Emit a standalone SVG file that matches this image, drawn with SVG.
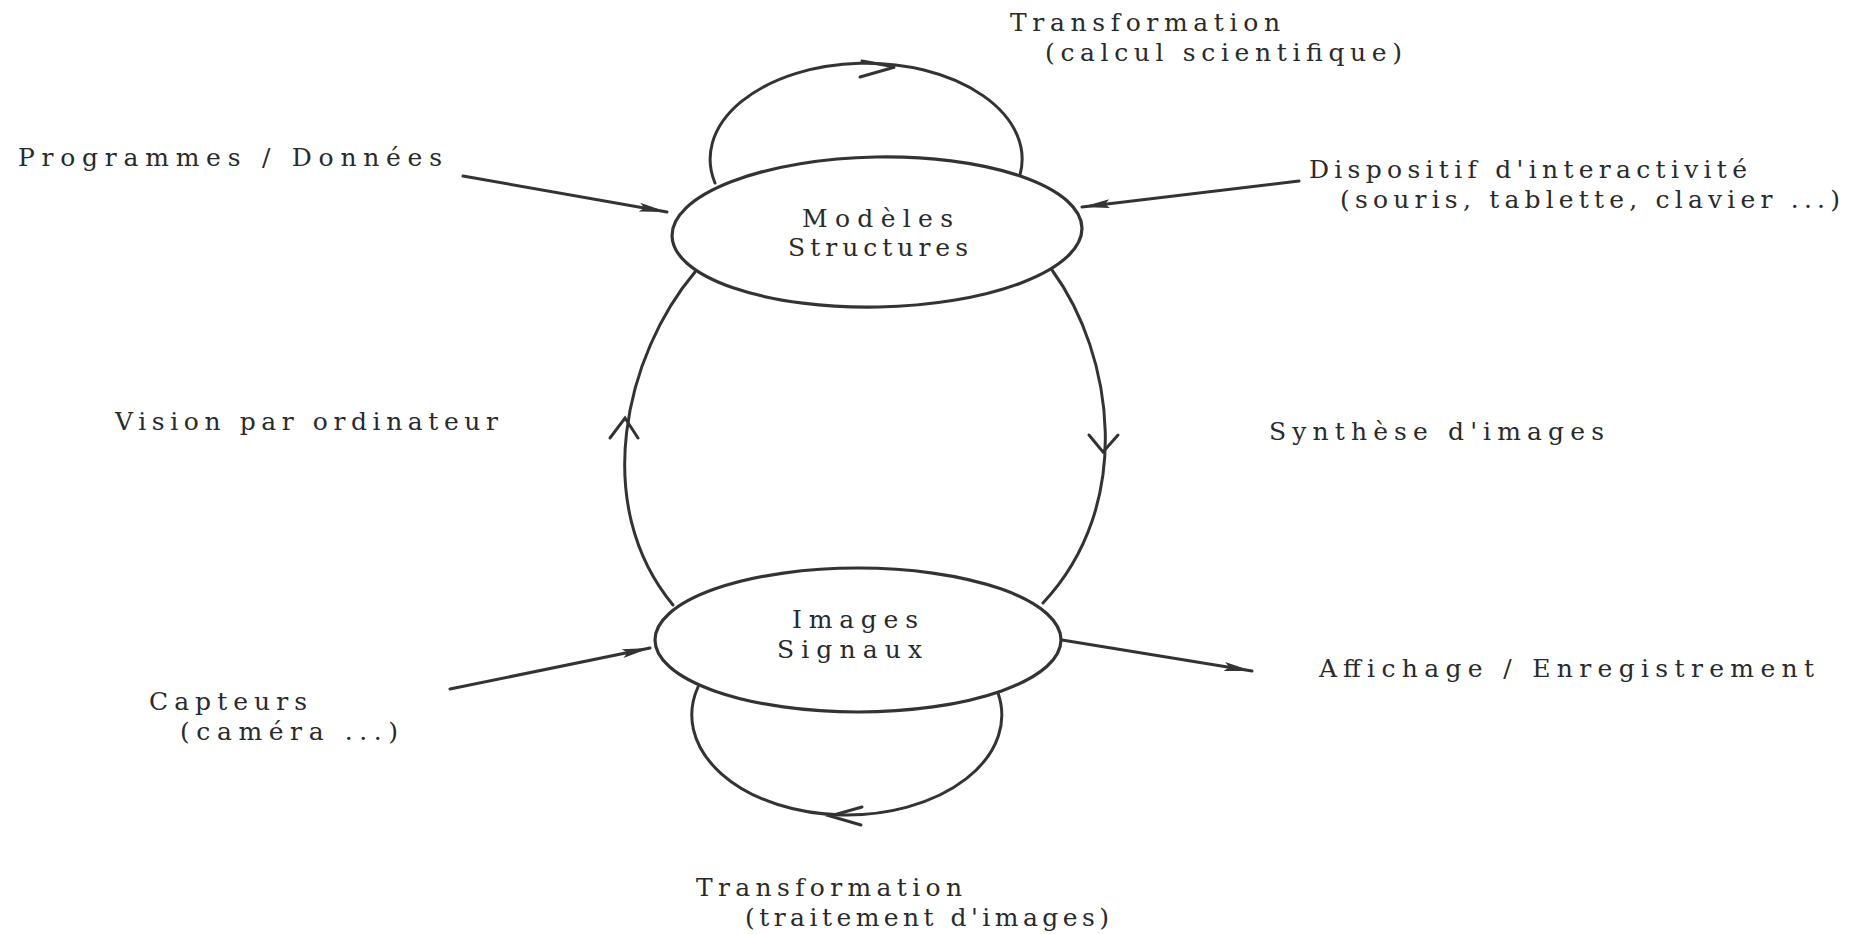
<svg xmlns="http://www.w3.org/2000/svg" width="1863" height="934" viewBox="0 0 1863 934">
<style>
.edge{fill:none;stroke:#333;stroke-width:3;stroke-linecap:round}
.chev{fill:none;stroke:#333;stroke-width:3;stroke-linecap:round;stroke-linejoin:miter}
.node ellipse{fill:#fff;stroke:#333;stroke-width:3.2}
text{font-family:"DejaVu Serif","Liberation Serif",serif;font-size:25px;fill:#2a2a2a}
</style>
<defs>
<marker id="ah" markerUnits="userSpaceOnUse" markerWidth="32" markerHeight="12" refX="28" refY="5" orient="auto"><path d="M0,0.5 L28,5 L0,9.5 L5,5 z" fill="#333"/></marker>
</defs>
<rect width="1863" height="934" fill="#fff"/>
<g id="connectors">
<path class="edge" d="M 715 183 A 156 96 0 1 1 1020 175"/>
<path class="chev" d="M 862 61 L 895 67 L 860 77"/>
<path class="edge" d="M 695 272 C 625 355, 590 505, 673 605"/>
<path class="chev" d="M 610 438 L 625 418 L 638 438"/>
<path class="edge" d="M 1052 270 C 1114 355, 1135 505, 1043 603"/>
<path class="chev" d="M 1089 435 L 1103 452 L 1118 435"/>
<path class="edge" d="M 698 687 A 155 100 0 1 0 998 693"/>
<path class="chev" d="M 862 807 L 830 816 L 861 825"/>
<path class="edge" d="M 463 176 L 667 212" marker-end="url(#ah)"/>
<path class="edge" d="M 1299 181 L 1082 207" marker-end="url(#ah)"/>
<path class="edge" d="M 450 689 L 650 648" marker-end="url(#ah)"/>
<path class="edge" d="M 1062 640 L 1252 671" marker-end="url(#ah)"/>
</g>
<g id="n-modeles" class="node">
<ellipse cx="877" cy="232" rx="205" ry="75" transform="rotate(-1.1 877 232)"/>
<text x="802" y="227" textLength="151" lengthAdjust="spacing">Modèles</text>
<text x="788" y="256" textLength="180" lengthAdjust="spacing">Structures</text>
</g>
<g id="n-images" class="node">
<ellipse cx="858" cy="640" rx="203" ry="72"/>
<text x="792" y="628" textLength="126" lengthAdjust="spacing">Images</text>
<text x="777" y="658" textLength="145" lengthAdjust="spacing">Signaux</text>
</g>
<g id="labels">
<text x="1010" y="31" textLength="270" lengthAdjust="spacing">Transformation</text>
<text x="1045" y="61" textLength="357" lengthAdjust="spacing">(calcul scientifique)</text>
<text x="18" y="166" textLength="424" lengthAdjust="spacing">Programmes / Données</text>
<text x="1309" y="178" textLength="438" lengthAdjust="spacing">Dispositif d'interactivité</text>
<text x="1340" y="208" textLength="500" lengthAdjust="spacing">(souris, tablette, clavier ...)</text>
<text x="115" y="430" textLength="383" lengthAdjust="spacing">Vision par ordinateur</text>
<text x="1269" y="440" textLength="335" lengthAdjust="spacing">Synthèse d'images</text>
<text x="1319" y="677" textLength="495" lengthAdjust="spacing">Affichage / Enregistrement</text>
<text x="149" y="710" textLength="158" lengthAdjust="spacing">Capteurs</text>
<text x="180" y="740" textLength="218" lengthAdjust="spacing">(caméra ...)</text>
<text x="696" y="896" textLength="266" lengthAdjust="spacing">Transformation</text>
<text x="745" y="926" textLength="364" lengthAdjust="spacing">(traitement d'images)</text>
</g>
</svg>
